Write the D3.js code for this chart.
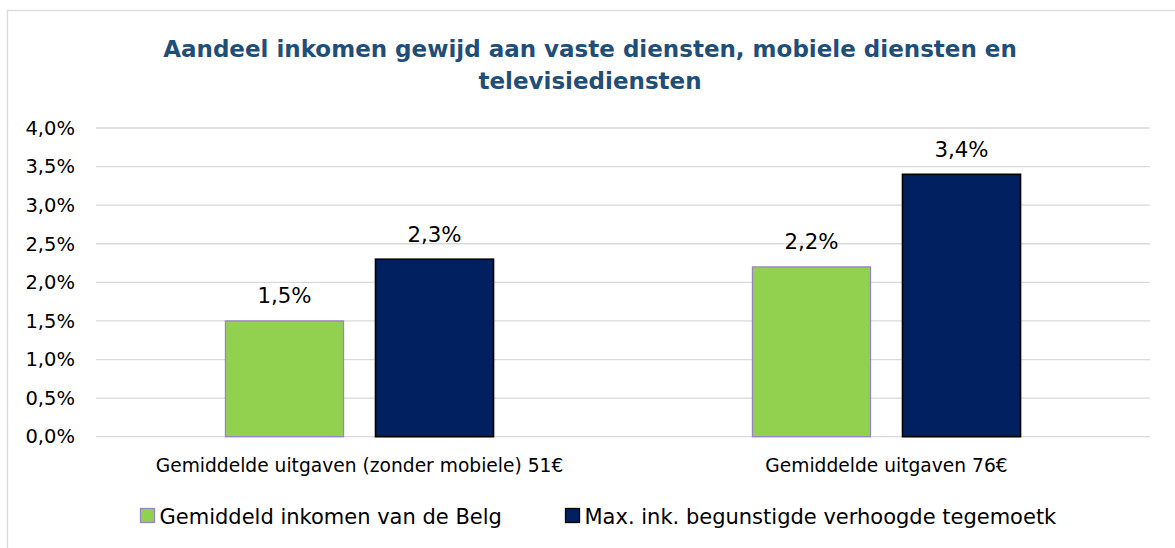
<!DOCTYPE html>
<html>
<head>
<meta charset="utf-8">
<script src="https://cdn.jsdelivr.net/npm/d3@7"></script>
<style>
  html, body { margin: 0; padding: 0; background: #fff; }
  svg { display: block; font-family: "DejaVu Sans", Verdana, sans-serif; }
</style>
</head>
<body>
<svg id="chart" width="1175" height="548"></svg>
<script>
const titleLines = ["Aandeel inkomen gewijd aan vaste diensten, mobiele diensten en", "televisiediensten"];
const categories = ["Gemiddelde uitgaven (zonder mobiele) 51€", "Gemiddelde uitgaven 76€"];
const seriesNames = ["Gemiddeld inkomen van de Belg", "Max. ink. begunstigde verhoogde tegemoetk"];
const seriesGreen = [1.5, 2.2];
const seriesNavy = [2.3, 3.4];
const yTicks = [0, 0.5, 1, 1.5, 2, 2.5, 3, 3.5, 4];

(function () {
const fills = ["#92D050", "#002060"];
const strokes = ["#9B84C4", "#000000"];

const svg = d3.select("#chart");

// frame
svg.append("rect").attr("x", 7.5).attr("y", 10.5).attr("width", 1200).attr("height", 600)
  .attr("fill", "#fff").attr("stroke", "#d9d9d9").attr("stroke-width", 1.3);

// title
const title = svg.append("text").attr("text-anchor", "middle")
  .attr("font-weight", "bold").attr("font-size", 23).attr("fill", "#1F4E79");
titleLines.forEach((t, i) => {
  title.append("tspan").attr("x", 590).attr("y", 57 + i * 31.5).text(t);
});

const pLeft = 96, pRight = 1150, pTop = 128, pBottom = 436.7;
const y = d3.scaleLinear().domain([0, 4]).range([pBottom, pTop]);
const x0 = d3.scaleBand().domain(categories).range([pLeft, pRight]).padding(0);
const x1 = d3.scaleBand().domain([0, 1]).range([0, x0.bandwidth()])
  .paddingInner(0.2133).paddingOuter(0.863);

const fmt = v => d3.format(".1f")(v).replace(".", ",") + "%";

// gridlines
svg.append("g").selectAll("line").data(yTicks).join("line")
  .attr("x1", pLeft).attr("x2", pRight)
  .attr("y1", d => y(d)).attr("y2", d => y(d))
  .attr("stroke", "#d9d9d9").attr("stroke-width", 1.3);

// y labels
const yAxis = d3.axisLeft(y).tickValues(yTicks).tickFormat(fmt).tickSize(0).tickPadding(21);
const gy = svg.append("g").attr("transform", `translate(${pLeft},0)`).call(yAxis);
gy.select(".domain").remove();
gy.selectAll("text").attr("font-size", 19.5).attr("fill", "#000")
  .attr("font-family", "DejaVu Sans, Verdana, sans-serif");

// bars
const data = categories.map((c, i) => ({ cat: c, vals: [seriesGreen[i], seriesNavy[i]] }));
const groups = svg.append("g").selectAll("g").data(data).join("g")
  .attr("transform", d => `translate(${x0(d.cat)},0)`);

groups.selectAll("rect").data(d => d.vals.map((v, s) => ({ v, s }))).join("rect")
  .attr("x", d => x1(d.s)).attr("width", x1.bandwidth())
  .attr("y", d => y(d.v)).attr("height", d => y(0) - y(d.v))
  .attr("fill", d => fills[d.s]).attr("stroke", d => strokes[d.s])
  .attr("stroke-width", d => d.s === 0 ? 1.3 : 1.6);

groups.selectAll("text.lbl").data(d => d.vals.map((v, s) => ({ v, s }))).join("text")
  .attr("class", "lbl")
  .attr("x", d => x1(d.s) + x1.bandwidth() / 2)
  .attr("y", d => y(d.v) - 17.5)
  .attr("text-anchor", "middle").attr("font-size", 21.3).attr("fill", "#000")
  .text(d => fmt(d.v));

// category labels
svg.append("g").selectAll("text").data(categories).join("text")
  .attr("x", d => x0(d) + x0.bandwidth() / 2).attr("y", 471.7)
  .attr("text-anchor", "middle").attr("font-size", 18.67).attr("fill", "#000")
  .text(d => d);

// legend
const legendX = [140.5, 565.5];
const leg = svg.append("g").selectAll("g").data(seriesNames).join("g")
  .attr("transform", (d, i) => `translate(${legendX[i]},0)`);
leg.append("rect").attr("x", 0).attr("y", 508.5).attr("width", 14).attr("height", 14)
  .attr("fill", (d, i) => fills[i]).attr("stroke", (d, i) => strokes[i]).attr("stroke-width", 1.3);
leg.append("text").attr("x", 19).attr("y", 524).attr("font-size", 21).attr("fill", "#000")
  .text(d => d);
})();
</script>
</body>
</html>
